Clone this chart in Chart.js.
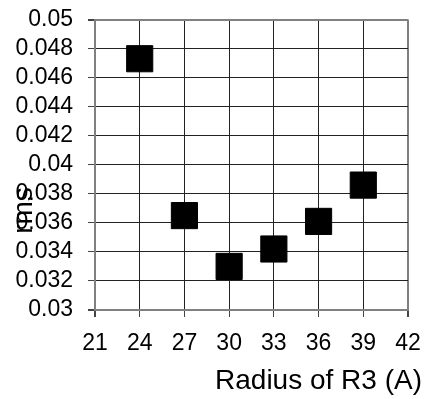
<!DOCTYPE html>
<html>
<head>
<meta charset="utf-8">
<script src="https://cdn.jsdelivr.net/npm/chart.js@4.4.1/dist/chart.umd.min.js"></script>
<style>
  html, body { margin: 0; padding: 0; background: #ffffff; }
  #wrap { width: 429px; height: 399px; position: relative; }
</style>
</head>
<body>
<div id="wrap"><canvas id="c" width="429" height="399"></canvas></div>
<script>
const radius = [24, 27, 30, 33, 36, 39];
const rms = [0.0473, 0.0365, 0.0330, 0.0342, 0.0361, 0.0386];
const xTickValues = [21, 24, 27, 30, 33, 36, 39, 42];
const yTickValues = [0.03, 0.032, 0.034, 0.036, 0.038, 0.04, 0.042, 0.044, 0.046, 0.048, 0.05];
const yTickLabels = ['0.03', '0.032', '0.034', '0.036', '0.038', '0.04', '0.042', '0.044', '0.046', '0.048', '0.05'];
const xTitle = 'Radius of R3 (A)';
const yTitle = 'rms';

const FONT = 'Liberation Sans, Arial, Helvetica, sans-serif';
const isEdge = (ctx) => ctx.index === 0 || ctx.index === ctx.scale.ticks.length - 1;
const gridColor = (ctx) => isEdge(ctx) ? '#808080' : '#222222';
const gridWidth = (ctx) => isEdge(ctx) ? 2 : 1;

const titlePlugin = {
  id: 'axisTitles',
  afterDraw(chart) {
    const ctx = chart.ctx;
    const a = chart.chartArea;
    ctx.save();
    ctx.fillStyle = '#000';
    ctx.font = '28px ' + FONT;
    ctx.textAlign = 'right';
    ctx.textBaseline = 'middle';
    ctx.fillText(xTitle, a.right + 14, a.bottom + 71);
    ctx.translate(a.left - 71, a.top + 191);
    ctx.rotate(-Math.PI / 2);
    ctx.textAlign = 'center';
    ctx.fillText(yTitle, 0, 0);
    ctx.restore();
  }
};

new Chart(document.getElementById('c'), {
  type: 'scatter',
  data: {
    datasets: [{
      data: radius.map((x, i) => ({ x: x, y: rms[i] })),
      pointStyle: 'rect',
      pointRadius: 18.5,
      pointHoverRadius: 18.5,
      backgroundColor: '#000000',
      borderColor: '#000000',
      borderWidth: 1
    }]
  },
  options: {
    responsive: false,
    animation: false,
    events: [],
    layout: { padding: { top: 16, right: 21, left: 0, bottom: 0 } },
    plugins: { legend: { display: false }, tooltip: { enabled: false } },
    scales: {
      x: {
        type: 'linear',
        min: 21,
        max: 42,
        afterBuildTicks: (s) => { s.ticks = xTickValues.map(v => ({ value: v })); },
        afterFit: (s) => { s.height = 89; s.paddingLeft = 0; s.paddingRight = 0; },
        ticks: {
          color: '#000',
          font: { family: FONT, size: 23 },
          padding: 13,
          maxRotation: 0,
          autoSkip: false,
          callback: (v) => String(v)
        },
        grid: { color: gridColor, lineWidth: gridWidth, tickLength: 7, tickColor: '#444' },
        border: { display: true, color: '#808080', width: 2 },
        title: { display: false }
      },
      y: {
        type: 'linear',
        min: 0.03,
        max: 0.05,
        afterBuildTicks: (s) => { s.ticks = yTickValues.map(v => ({ value: v })); },
        afterFit: (s) => { s.width = 95; s.paddingTop = 0; s.paddingBottom = 0; },
        ticks: {
          color: '#000',
          font: { family: FONT, size: 23 },
          padding: 15,
          autoSkip: false,
          callback: (v, i) => yTickLabels[i]
        },
        grid: { color: gridColor, lineWidth: gridWidth, tickLength: 7, tickColor: '#444' },
        border: { display: true, color: '#808080', width: 2 },
        title: { display: false }
      }
    }
  },
  plugins: [titlePlugin]
});
</script>
</body>
</html>
